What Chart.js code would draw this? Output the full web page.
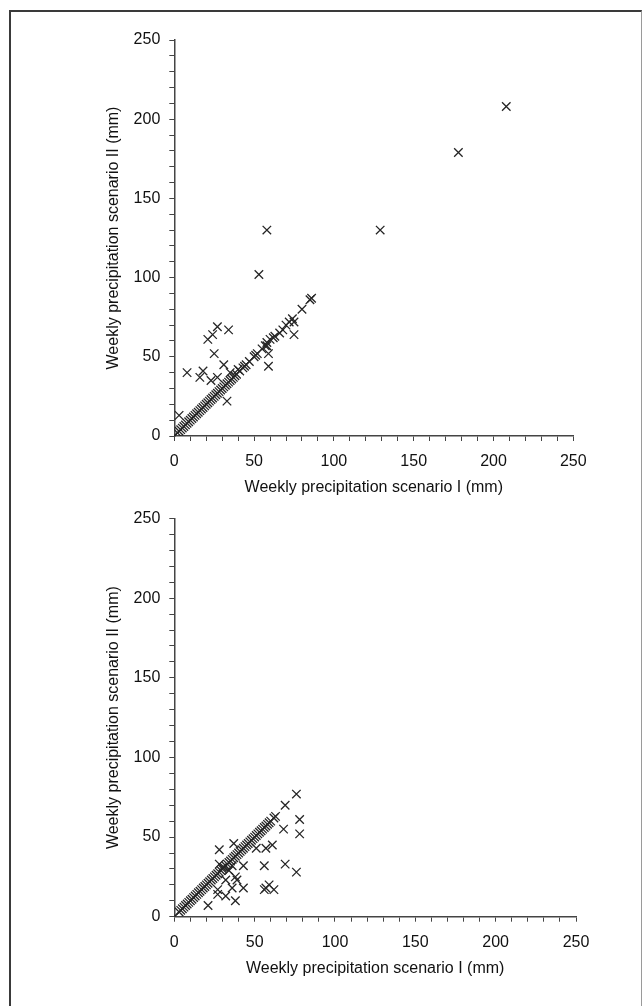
<!DOCTYPE html>
<html>
<head>
<meta charset="utf-8">
<script src="https://cdn.jsdelivr.net/npm/chart.js@4.4.1/dist/chart.umd.min.js"></script>
<style>
  html, body { margin: 0; padding: 0; background: #ffffff; }
  #page { position: relative; width: 644px; height: 1006px; overflow: hidden; background: #ffffff; }
  #frame { position: absolute; left: 9px; top: 10px; width: 630px; height: 1010px;
           border-left: 2px solid #3a3a3a; border-top: 2px solid #3a3a3a; border-right: 1px solid #9a9a9a; }
  canvas { position: absolute; left: 0; }
  #topChart { top: 0; }
  #bottomChart { top: 500px; }
</style>
</head>
<body>
<div id="page">
  <div id="frame"></div>
  <canvas id="topChart" width="644" height="500"></canvas>
  <canvas id="bottomChart" width="644" height="506"></canvas>
</div>
<script>
// Weekly precipitation, upper panel: scenario I (x) against scenario II (y), mm
const upperScenarioI = [
  0, 2, 3, 4, 5, 6, 7, 8, 9, 10, 11, 12, 13, 14, 15, 16, 17, 18, 19, 20,
  21, 22, 23, 24, 25, 26, 27, 28, 29, 30, 31, 32, 33, 34, 35, 36, 37, 38, 39, 40,
  41, 43, 44, 45, 47, 50, 51, 52, 55, 57, 58, 58, 60, 62, 63, 66, 68, 70, 72, 74,
  75, 80, 85, 86,
  3, 8, 18, 16, 23, 27, 35, 31, 25, 21, 24, 27, 34, 33, 59, 59, 75, 53, 58, 129, 178, 208
];
const upperScenarioII = [
  0, 2, 3, 4, 5, 6, 7, 8, 9, 10, 11, 12, 13, 14, 15, 16, 17, 18, 19, 20,
  21, 22, 23, 24, 25, 26, 27, 28, 29, 30, 31, 32, 33, 34, 35, 36, 37, 38, 39, 42,
  41, 43, 44, 45, 47, 50, 51, 52, 55, 57, 57, 59, 61, 62, 63, 65, 67, 70, 72, 74,
  72, 80, 86, 87,
  13, 40, 41, 37, 35, 37, 40, 45, 52, 61, 64, 69, 67, 22, 52, 44, 64, 102, 130, 130, 179, 208
];

// Weekly precipitation, lower panel: scenario I (x) against scenario II (y), mm
const lowerScenarioI = [
  0, 3, 4, 5, 6, 7, 8, 9, 10, 11, 12, 13, 14, 15, 16, 17, 18, 19, 20, 21,
  22, 23, 24, 25, 26, 27, 28, 29, 30, 31, 32, 33, 34, 35, 36, 37, 38, 39, 40, 41,
  42, 43, 44, 45, 46, 47, 48, 49, 50, 51, 52, 53, 54, 55, 56, 57, 58, 59, 60, 62, 63,
  69, 76, 78, 78, 68, 76, 69, 61, 57, 51, 56, 57, 62, 59, 56, 43, 43, 38, 38, 39, 36,
  37, 28, 32, 32, 27, 27, 21, 28, 34, 30, 36
];
const lowerScenarioII = [
  0, 3, 4, 5, 6, 7, 8, 9, 10, 11, 12, 13, 14, 15, 16, 17, 18, 19, 20, 21,
  22, 23, 24, 25, 26, 27, 28, 29, 30, 31, 32, 33, 34, 35, 36, 37, 38, 39, 40, 41,
  42, 43, 44, 45, 46, 47, 48, 49, 50, 51, 52, 53, 54, 55, 56, 57, 58, 59, 60, 62, 63,
  70, 77, 61, 52, 55, 28, 33, 45, 43, 43, 32, 18, 17, 20, 17, 32, 18, 10, 25, 23, 18,
  46, 42, 23, 13, 17, 14, 7, 33, 29, 31, 32
];

// Axis ticks every 10 mm, labelled every 50 mm
const axisMin = 0;
const axisMax = 250;
const tickStep = 10;
const labelStep = 50;

const xTitle = 'Weekly precipitation scenario I (mm)';
const yTitle = 'Weekly precipitation scenario II (mm)';

function toPoints(xs, ys) {
  return xs.map((x, i) => ({ x: x, y: ys[i] }));
}

const fontFamily = '"Liberation Sans", Arial, Helvetica, sans-serif';
const inkColor = '#111111';
const axisColor = '#444444';

function axisOptions(isX, scaleSize) {
  return {
    type: 'linear',
    min: axisMin,
    max: axisMax,
    ticks: {
      stepSize: tickStep,
      autoSkip: false,
      maxRotation: 0,
      color: inkColor,
      font: { family: fontFamily, size: 16 },
      padding: isX ? 11 : 9,
      callback: (v) => (v % labelStep === 0 ? String(v) : '')
    },
    grid: {
      display: true,
      drawOnChartArea: false,
      drawTicks: true,
      tickLength: 5,
      tickColor: axisColor,
      tickWidth: 1
    },
    border: { display: true, color: axisColor, width: 1.5 },
    title: {
      display: true,
      text: isX ? xTitle : yTitle,
      color: inkColor,
      font: { family: fontFamily, size: 16 },
      padding: isX ? { top: 0, bottom: 0 } : { top: 4.4, bottom: 0 }
    },
    afterFit: (scale) => {
      if (isX) { scale.height = scaleSize; } else { scale.width = scaleSize; }
    }
  };
}

function makeChart(id, xs, ys, pad, xScaleHeight, yScaleWidth) {
  return new Chart(document.getElementById(id), {
    type: 'scatter',
    data: {
      datasets: [{
        data: toPoints(xs, ys),
        pointStyle: 'crossRot',
        pointRadius: 6,
        pointHoverRadius: 6,
        borderColor: '#262626',
        backgroundColor: '#262626',
        borderWidth: 1.3
      }]
    },
    options: {
      responsive: false,
      animation: false,
      events: [],
      layout: { padding: pad },
      plugins: { legend: { display: false }, tooltip: { enabled: false } },
      scales: {
        x: axisOptions(true, xScaleHeight),
        y: axisOptions(false, yScaleWidth)
      }
    }
  });
}

// Upper panel: plot area 174.3..573.3 across, 40..436 down
makeChart('topChart', upperScenarioI, upperScenarioII,
  { left: 100, top: 40, right: 70.7, bottom: 2.4 }, 61.6, 74.3);

// Lower panel: plot area 174.3..576 across, 516..916.7 down (canvas starts at 500)
makeChart('bottomChart', lowerScenarioI, lowerScenarioII,
  { left: 100, top: 16, right: 68, bottom: 27.4 }, 61.9, 74.3);
</script>
</body>
</html>
